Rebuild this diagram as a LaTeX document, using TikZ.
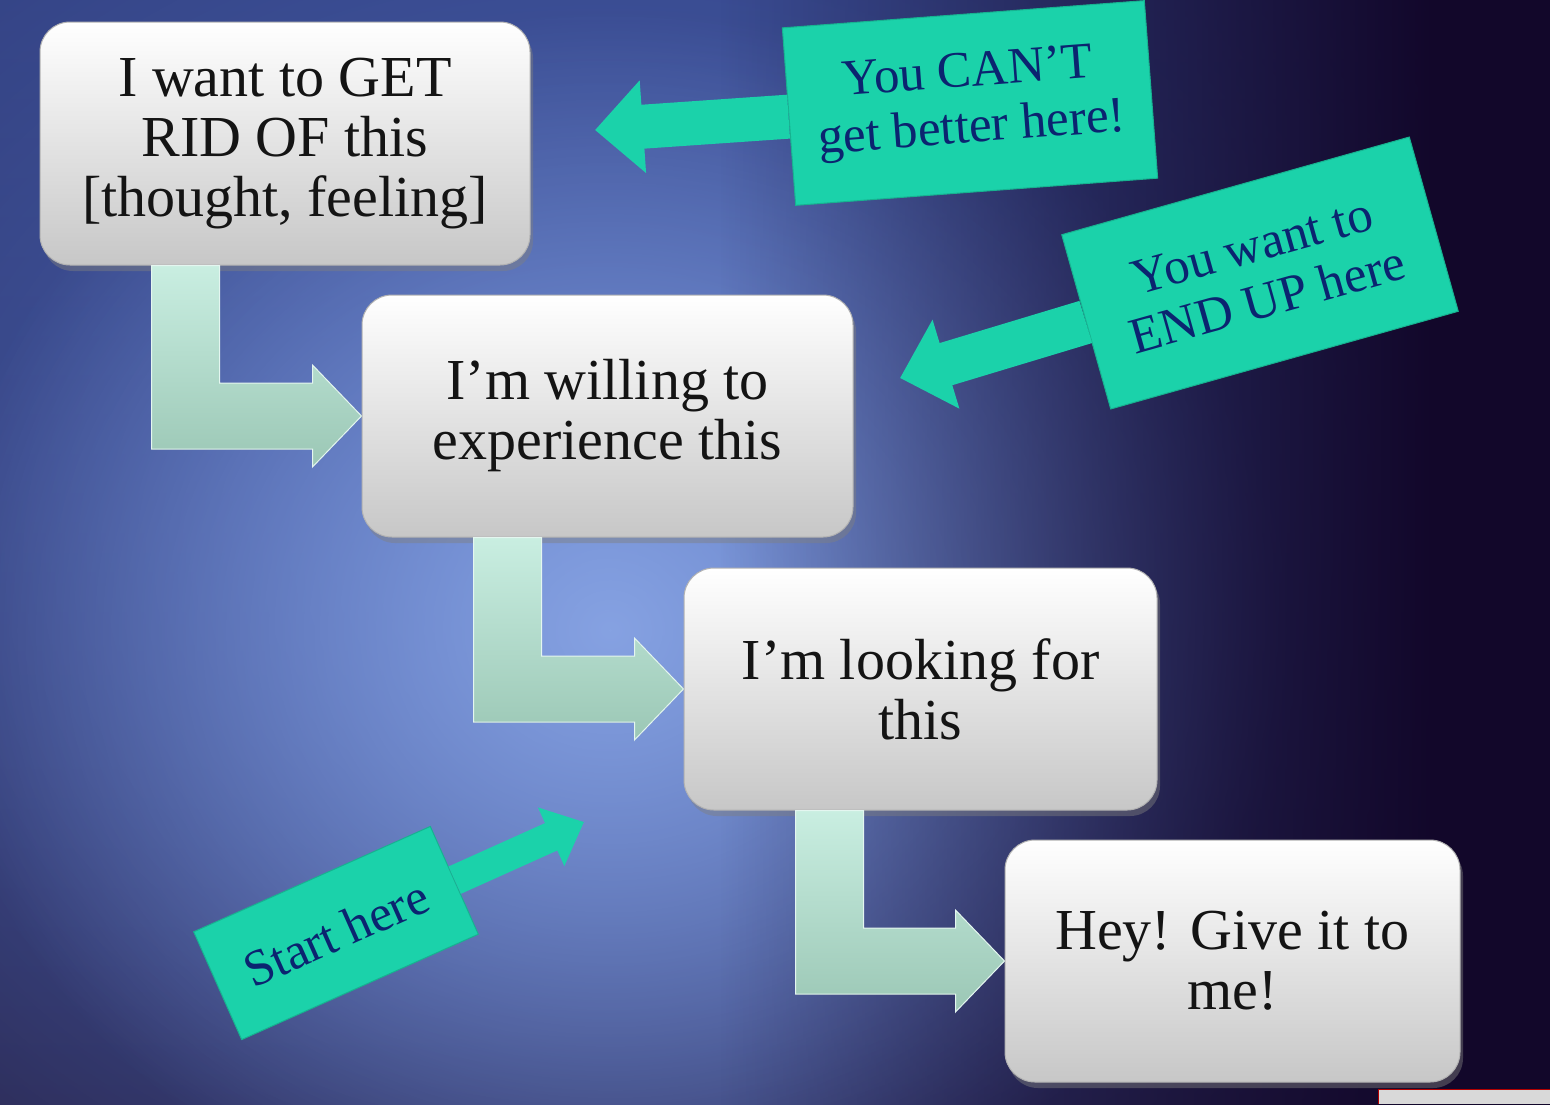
\documentclass[tikz,border=0pt]{standalone}
\usepackage{fontspec}
\setmainfont{Liberation Serif}
\usetikzlibrary{arrows.meta,calc,shadows,fadings}

\definecolor{bgtop}{HTML}{303C7A}
\definecolor{bgmid}{HTML}{34468A}
\definecolor{bgbottom}{HTML}{272044}
\definecolor{bgdark}{HTML}{12072A}
\definecolor{glowwide}{HTML}{4A66B8}
\definecolor{glowcore}{HTML}{86A2E2}
\definecolor{calloutteal}{HTML}{1BD2AA}
\definecolor{calloutink}{HTML}{0B2470}
\definecolor{flowlight}{HTML}{C9EEE1}
\definecolor{flowdark}{HTML}{9BC7B5}

\tikzfading[name=glowfade, inner color=transparent!0, outer color=transparent!100]
\tikzfading[name=darkright, left color=transparent!100, right color=transparent!0]

% bent arrow from the bottom of one step into the side of the next
\newcommand{\stepflow}[2]{%
  \fill[top color=flowlight, bottom color=flowdark, draw=flowlight!50!white, line width=1pt]
    ($(#1.south west)+(112,0)$) -- ($(#1.south west)+(180,0)$)
    -- ($(#1.south west |- #2.west)+(180,-33)$) -- ($(#2.west)+(-49,-33)$)
    -- ($(#2.west)+(-49,-51)$) -- (#2.west) -- ($(#2.west)+(-49,51)$)
    -- ($(#2.west)+(-49,33)$) -- ($(#1.south west |- #2.west)+(112,33)$) -- cycle;}

\begin{document}
\begin{tikzpicture}
[
    x=1pt, y=-1pt,
    stepbox/.style={rounded corners=30pt, top color=white, bottom color=black!22,
        draw=black!30, line width=1pt, align=center, text=black!92, inner sep=0pt,
        font=\fontsize{58}{60}\selectfont,
        drop shadow={shadow xshift=3pt, shadow yshift=-6pt, opacity=0.45}},
    callout/.style={fill=calloutteal, draw=calloutteal!85!black, line width=1pt,
        text=calloutink, align=center, inner sep=0pt, font=\fontsize{51}{56}\selectfont},
    pointer/.style={draw=calloutteal, line width=44pt, -{Triangle[length=48pt, width=90pt]}},
    thinpointer/.style={pointer, line width=30pt, -{Triangle[length=36pt, width=62pt]}},
]
% background
\useasboundingbox (0,0) rectangle (1550,1104);
\clip (0,0) rectangle (1550,1104);
\shade[top color=bgtop, middle color=bgmid, bottom color=bgbottom] (0,0) rectangle (1550,1104);
\fill[glowwide, path fading=glowfade] (600,560) ellipse [x radius=1150, y radius=950];
\fill[glowcore, path fading=glowfade] (610,630) ellipse [x radius=680, y radius=620];
\fill[bgdark, path fading=darkright] (720,-40) rectangle (1440,1144);
\fill[bgdark] (1430,-40) rectangle (1590,1144);

% steps
\node[stepbox, minimum width=490pt, minimum height=243pt] (getrid) at (285,143.5)
    {I want to GET\\RID OF this\\{[}thought, feeling]};
\node[stepbox, minimum width=491pt, minimum height=242pt] (willing) at (607.5,416)
    {I’m willing to\\experience this};
\node[stepbox, minimum width=473pt, minimum height=242pt] (looking) at (920.5,689)
    {I’m looking for\\this};
\node[stepbox, minimum width=455pt, minimum height=242pt] (giveit) at (1232.5,961)
    {Hey! Give it to\\me!};

\stepflow{getrid}{willing}
\stepflow{willing}{looking}
\stepflow{looking}{giveit}

% callouts
\node[callout, rotate=4.3, minimum width=363pt, minimum height=178pt] (cant) at (970,103)
    {You CAN’T\\get better here!};
\coordinate (cantmark) at (595,130);
\draw[pointer] (cant.west) -- (cantmark);

\node[callout, rotate=15.7, minimum width=361pt, minimum height=181pt] (endup) at (1260,273)
    {You want to\\END UP here};
\coordinate (endupmark) at (900,378);
\draw[pointer] (endup.west) -- (endupmark);

\node[callout, rotate=24, minimum width=259pt, minimum height=118pt] (start) at (336,933)
    {Start here};
\coordinate (startmark) at (584,822);
\draw[thinpointer] (start.east) -- (startmark);

% corner strip
\fill[black!15] (1378,1089) rectangle (1550,1104);
\draw[red!70!black, line width=1pt] (1378,1104) |- (1550,1089);
\end{tikzpicture}
\end{document}
